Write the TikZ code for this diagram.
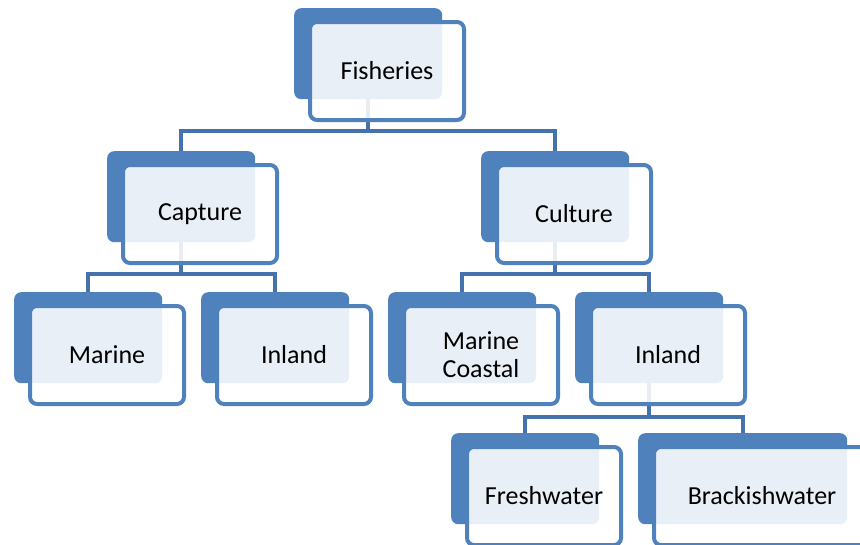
\documentclass[tikz,border=0pt]{standalone}
\usepackage{fontspec}
\setmainfont{Carlito}
\pgfdeclarelayer{bg}
\pgfsetlayers{bg,main}
\definecolor{nodeblue}{HTML}{4F81BD}
\definecolor{linkblue}{HTML}{4572AC}
\tikzset{
  darkbox/.style={fill=nodeblue, rounded corners=7pt, inner sep=0pt, anchor=north west,
    minimum width=148pt, minimum height=91pt},
  lightbox/.style={draw=nodeblue, line width=4pt, fill=white, fill opacity=0.88, text opacity=1,
    rounded corners=7pt, inner sep=0pt, anchor=north west, minimum width=154pt, minimum height=98pt,
    align=center, font=\fontsize{26}{28}\selectfont},
  link/.style={draw=linkblue, line width=4pt}
}
\begin{document}
\begin{tikzpicture}[x=1pt,y=-1pt]
\useasboundingbox (0,0) rectangle (860,544);
\clip (0,0) rectangle (860,544);
% Fisheries
\node[darkbox] (fishD) at (294,8) {};
\node[lightbox] (fishW) at ([shift={(14pt,-12pt)}]fishD.north west) {Fisheries};
% Capture
\node[darkbox] (capD) at (107,151) {};
\node[lightbox] (capW) at ([shift={(14pt,-12pt)}]capD.north west) {Capture};
% Culture
\node[darkbox] (culD) at (481,151) {};
\node[lightbox] (culW) at ([shift={(14pt,-12pt)}]culD.north west) {Culture};
% Marine
\node[darkbox] (marD) at (14,292) {};
\node[lightbox] (marW) at ([shift={(14pt,-12pt)}]marD.north west) {Marine};
% Inland (capture)
\node[darkbox] (inlD) at (201,292) {};
\node[lightbox] (inlW) at ([shift={(14pt,-12pt)}]inlD.north west) {Inland};
% Marine Coastal
\node[darkbox] (mcD) at (388,292) {};
\node[lightbox] (mcW) at ([shift={(14pt,-12pt)}]mcD.north west) {Marine\\Coastal};
% Inland (culture)
\node[darkbox] (incD) at (575,292) {};
\node[lightbox] (incW) at ([shift={(14pt,-12pt)}]incD.north west) {Inland};
% Freshwater
\node[darkbox] (frD) at (451,433) {};
\node[lightbox] (frW) at ([shift={(14pt,-12pt)}]frD.north west) {Freshwater};
% Brackishwater
\node[darkbox, minimum width=209pt] (brD) at (638,433) {};
\node[lightbox, minimum width=216pt] (brW) at ([shift={(14pt,-12pt)}]brD.north west) {Brackishwater};
% connectors
\coordinate (busA) at (0,131);
\coordinate (busB) at (0,274);
\coordinate (busC) at (0,417);
\begin{pgfonlayer}{bg}
\draw[link] (fishD.south) -- (fishD.south |- busA) -| (capD.north);
\draw[link] (fishD.south) -- (fishD.south |- busA) -| (culD.north);
\draw[link] (capD.south) -- (capD.south |- busB) -| (marD.north);
\draw[link] (capD.south) -- (capD.south |- busB) -| (inlD.north);
\draw[link] (culD.south) -- (culD.south |- busB) -| (mcD.north);
\draw[link] (culD.south) -- (culD.south |- busB) -| (incD.north);
\draw[link] (incD.south) -- (incD.south |- busC) -| (frD.north);
\draw[link] (incD.south) -- (incD.south |- busC) -| (brD.north);
\end{pgfonlayer}
\end{tikzpicture}
\end{document}
